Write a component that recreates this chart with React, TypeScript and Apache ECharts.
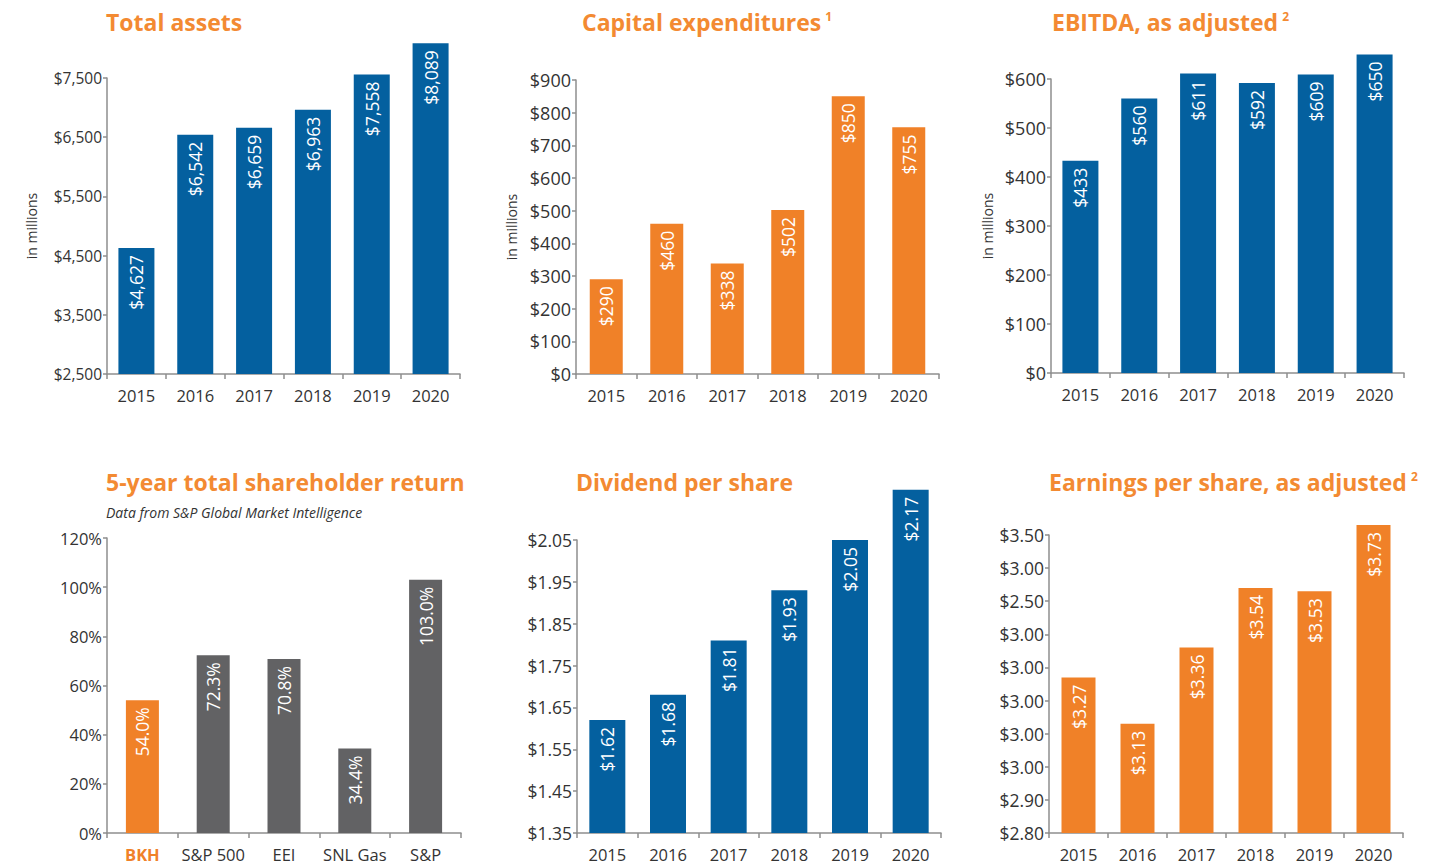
import React, { useEffect, useRef } from "react";
import * as echarts from "echarts";

const years = ["2015", "2016", "2017", "2018", "2019", "2020"];

const totalAssets = [4627, 6542, 6659, 6963, 7558, 8089];
const totalAssetsTicks = ["$2,500", "$3,500", "$4,500", "$5,500", "$6,500", "$7,500"];

const capex = [290, 460, 338, 502, 850, 755];
const capexTicks = ["$0", "$100", "$200", "$300", "$400", "$500", "$600", "$700", "$800", "$900"];

const ebitda = [433, 560, 611, 592, 609, 650];
const ebitdaTicks = ["$0", "$100", "$200", "$300", "$400", "$500", "$600"];

const tsrCategories = ["BKH", "S&P 500", "EEI", "SNL Gas", "S&P"];
const tsr = [54.0, 72.3, 70.8, 34.4, 103.0];
const tsrTicks = ["0%", "20%", "40%", "60%", "80%", "100%", "120%"];

const dividend = [1.62, 1.68, 1.81, 1.93, 2.05, 2.17];
const dividendTicks = ["$1.35", "$1.45", "$1.55", "$1.65", "$1.75", "$1.85", "$1.95", "$2.05"];

const eps = [3.27, 3.13, 3.36, 3.54, 3.53, 3.73];
const epsTicks = ["$2.80", "$2.90", "$3.00", "$3.00", "$3.00", "$3.00", "$3.00", "$2.50", "$3.00", "$3.50"];

const BLUE = "#04609F";
const ORANGE = "#F08128";
const GRAY = "#626264";
const TITLE = "#F38A32";
const TEXT = "#333333";
const AXIS = "#8e8e8e";
const FONT = "'Open Sans', sans-serif";

const comma = (v: number) => String(v).replace(/\B(?=(\d{3})+(?!\d))/g, ",");

export default function App() {
  const ref = useRef<HTMLDivElement>(null);
  useEffect(() => {
    if (!ref.current) return;
    const chart = echarts.init(ref.current, null, { renderer: "svg" });

    const panels = [
      {
        grid: { left: 107, top: 78, width: 353, height: 296 },
        cats: years, values: totalAssets, min: 2500, max: 7500, interval: 1000, ticks: totalAssetsTicks,
        color: (i: number) => BLUE, barWidth: 36, yFont: 15.5, name: "in millions", nameGap: 69,
        fmt: (v: number) => "$" + comma(v),
      },
      {
        grid: { left: 576, top: 80, width: 363, height: 294 },
        cats: years, values: capex, min: 0, max: 900, interval: 100, ticks: capexTicks,
        color: (i: number) => ORANGE, barWidth: 33, yFont: 18, name: "in millions", nameGap: 58,
        fmt: (v: number) => "$" + v,
      },
      {
        grid: { left: 1051, top: 79, width: 353, height: 294 },
        cats: years, values: ebitda, min: 0, max: 600, interval: 100, ticks: ebitdaTicks,
        color: (i: number) => BLUE, barWidth: 36, yFont: 18, name: "in millions", nameGap: 57,
        fmt: (v: number) => "$" + v,
      },
      {
        grid: { left: 107, top: 538, width: 354, height: 295 },
        cats: tsrCategories, values: tsr, min: 0, max: 120, interval: 20, ticks: tsrTicks,
        color: (i: number) => (i === 0 ? ORANGE : GRAY), barWidth: 33, yFont: 16.5, name: "", nameGap: 0,
        fmt: (v: number) => v.toFixed(1) + "%",
      },
      {
        grid: { left: 577, top: 540, width: 364, height: 293 },
        cats: years, values: dividend, min: 1.35, max: 2.05, interval: 0.1, ticks: dividendTicks,
        color: (i: number) => BLUE, barWidth: 36, yFont: 17.5, name: "", nameGap: 0,
        fmt: (v: number) => "$" + v.toFixed(2),
      },
      {
        grid: { left: 1049, top: 535, width: 354, height: 298 },
        cats: years, values: eps, min: 2.8, max: 3.7, interval: 0.1, ticks: epsTicks,
        color: (i: number) => ORANGE, barWidth: 34, yFont: 17.5, name: "", nameGap: 0,
        fmt: (v: number) => "$" + v.toFixed(2),
      },
    ];

    const titleStyle = {
      fontFamily: FONT, fontSize: 23, fontWeight: "bold" as const, color: TITLE,
      rich: {
        sup: { fontFamily: FONT, fontSize: 12, fontWeight: "bold" as const, color: TITLE, verticalAlign: "top" as const, padding: [0, 0, 0, 4] },
      },
    };

    const option: any = {
      animation: false,
      backgroundColor: "#ffffff",
      title: [
        { text: "Total assets", left: 101, top: 5, textStyle: titleStyle },
        { text: "Capital expenditures{sup|1}", left: 577, top: 5, textStyle: titleStyle },
        { text: "EBITDA, as adjusted{sup|2}", left: 1047, top: 5, textStyle: titleStyle },
        { text: "5-year total shareholder return", left: 101, top: 465, textStyle: titleStyle },
        {
          text: "Data from S&P Global Market Intelligence", left: 101, top: 500,
          textStyle: { fontFamily: FONT, fontSize: 14, fontStyle: "italic", fontWeight: "normal", color: TEXT },
        },
        { text: "Dividend per share", left: 571, top: 465, textStyle: titleStyle },
        { text: "Earnings per share, as adjusted{sup|2}", left: 1044, top: 465, textStyle: titleStyle },
      ],
      grid: panels.map((p) => ({ ...p.grid, containLabel: false })),
      xAxis: panels.map((p, k) => ({
        type: "category",
        gridIndex: k,
        data: p.cats,
        axisLine: { lineStyle: { color: AXIS, width: 1.5 } },
        axisTick: { show: true, length: 5, lineStyle: { color: AXIS, width: 1.5 } },
        axisLabel: {
          interval: 0,
          color: TEXT, fontFamily: FONT, fontSize: 16.5, margin: 13,
          formatter: k === 3 ? (v: string, i: number) => (i === 0 ? "{hl|" + v + "}" : v) : undefined,
          rich: { hl: { color: ORANGE, fontWeight: "bold", fontFamily: FONT, fontSize: 16.5 } },
        },
      })),
      yAxis: panels.map((p, k) => ({
        type: "value",
        gridIndex: k,
        min: p.min,
        max: p.max,
        interval: p.interval,
        startValue: p.min,
        name: p.name,
        nameLocation: "middle",
        nameRotate: 90,
        nameGap: p.nameGap,
        nameTextStyle: { color: TEXT, fontFamily: FONT, fontSize: 14 },
        axisLine: { show: true, lineStyle: { color: AXIS, width: 1.5 } },
        axisTick: { show: true, length: 4, lineStyle: { color: AXIS, width: 1.5 } },
        splitLine: { show: false },
        axisLabel: {
          color: TEXT, fontFamily: FONT, fontSize: p.yFont, margin: 5,
          formatter: (v: number) => p.ticks[Math.round((v - p.min) / p.interval)] ?? "",
        },
      })),
      series: panels.map((p, k) => ({
        type: "bar",
        xAxisIndex: k,
        yAxisIndex: k,
        clip: false,
        barWidth: p.barWidth,
        data: p.values.map((v, i) => ({ value: v, itemStyle: { color: p.color(i) } })),
        label: {
          show: true,
          position: "insideTop",
          rotate: 90,
          align: "right",
          verticalAlign: "middle",
          distance: 7,
          color: "#ffffff",
          fontFamily: FONT,
          fontSize: 17.5,
          formatter: (d: any) => p.fmt(d.value),
        },
      })),
    };

    chart.setOption(option);
    return () => chart.dispose();
  }, []);

  return <div ref={ref} style={{ position: "absolute", left: 0, top: 0, width: 1454, height: 867 }} />;
}
